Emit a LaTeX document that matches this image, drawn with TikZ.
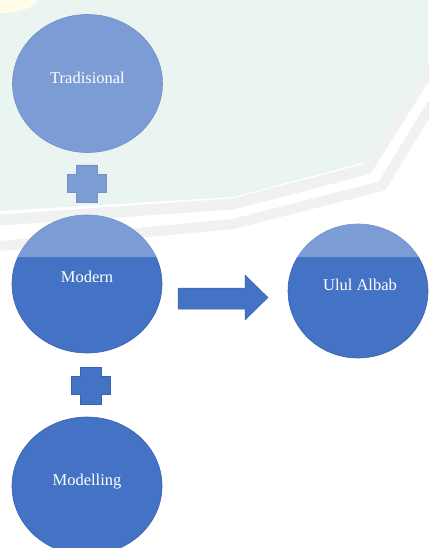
\documentclass[tikz,border=0pt]{standalone}
\usepackage{fontspec}
\setmainfont{Liberation Serif}
\usetikzlibrary{shapes.geometric}
\definecolor{blueC}{RGB}{68,114,196}
\definecolor{edgeC}{RGB}{58,98,172}
\definecolor{mintC}{RGB}{226,241,235}
\definecolor{bandC}{RGB}{234,236,236}
\definecolor{yelC}{RGB}{255,251,222}
\begin{document}
\begin{tikzpicture}[x=1pt,y=-1pt,
  bubble/.style={ellipse, fill=blueC, draw=edgeC, line width=0.6pt,
    minimum width=150pt, minimum height=138pt, inner sep=0pt},
  lbl/.style={text=white, font=\fontsize{16.5}{18}\selectfont, inner sep=0pt},
  plusshape/.style={fill=blueC, draw=edgeC, line width=0.4pt},
  blockarrow/.style={fill=blueC, draw=edgeC, line width=0.5pt}]
\useasboundingbox (0,0) rectangle (428,548);
% background / watermark tint
\fill[white] (0,0) rectangle (428,548);
\fill[mintC] (0,0) -- (428,0) -- (428,66) -- (365,162) -- (233,197) -- (0,211) -- cycle;
\fill[yelC] (5,-8) ellipse [x radius=36pt, y radius=21pt];
\draw[bandC, line width=11pt] (0,220) -- (233,204) -- (367,169) -- (432,66);
\draw[bandC, line width=10pt] (0,246) -- (233,224) -- (382,186) -- (432,104);
% circles
\node[bubble] (trad) at (87.5,83.5) {};
\node[bubble] (modern) at (87,284) {};
\node[bubble] (modelling) at (87,486) {};
\node[bubble, minimum width=140pt, minimum height=134pt] (ulul) at (358,291) {};
% plus signs
\coordinate (p1) at (86.5,183.5);
\coordinate (p2) at (91,385.5);
\foreach \p in {p1,p2}{
  \filldraw[plusshape] ([xshift=-10.5pt,yshift=18.5pt]\p) -- ([xshift=10.5pt,yshift=18.5pt]\p)
   -- ([xshift=10.5pt,yshift=9pt]\p) -- ([xshift=19.5pt,yshift=9pt]\p)
   -- ([xshift=19.5pt,yshift=-9pt]\p) -- ([xshift=10.5pt,yshift=-9pt]\p)
   -- ([xshift=10.5pt,yshift=-18.5pt]\p) -- ([xshift=-10.5pt,yshift=-18.5pt]\p)
   -- ([xshift=-10.5pt,yshift=-9pt]\p) -- ([xshift=-19.5pt,yshift=-9pt]\p)
   -- ([xshift=-19.5pt,yshift=9pt]\p) -- ([xshift=-10.5pt,yshift=9pt]\p) -- cycle;
}
% block arrow
\filldraw[blockarrow] (178,288) -- (245,288) -- (245,275) -- (268,297.5) -- (245,320) -- (245,309) -- (178,309) -- cycle;
% watermark lightening of the upper part
\fill[white, opacity=0.3] (0,0) rectangle (428,257);
% labels
\node[lbl] (tradT) at ([yshift=5.5pt]trad.center) {Tradisional};
\node[lbl] (modernT) at ([yshift=7pt]modern.center) {Modern};
\node[lbl] (ululT) at ([xshift=2pt,yshift=6pt]ulul.center) {Ulul Albab};
\node[lbl] (modellingT) at ([yshift=4pt]modelling.center) {Modelling};
\end{tikzpicture}
\end{document}
